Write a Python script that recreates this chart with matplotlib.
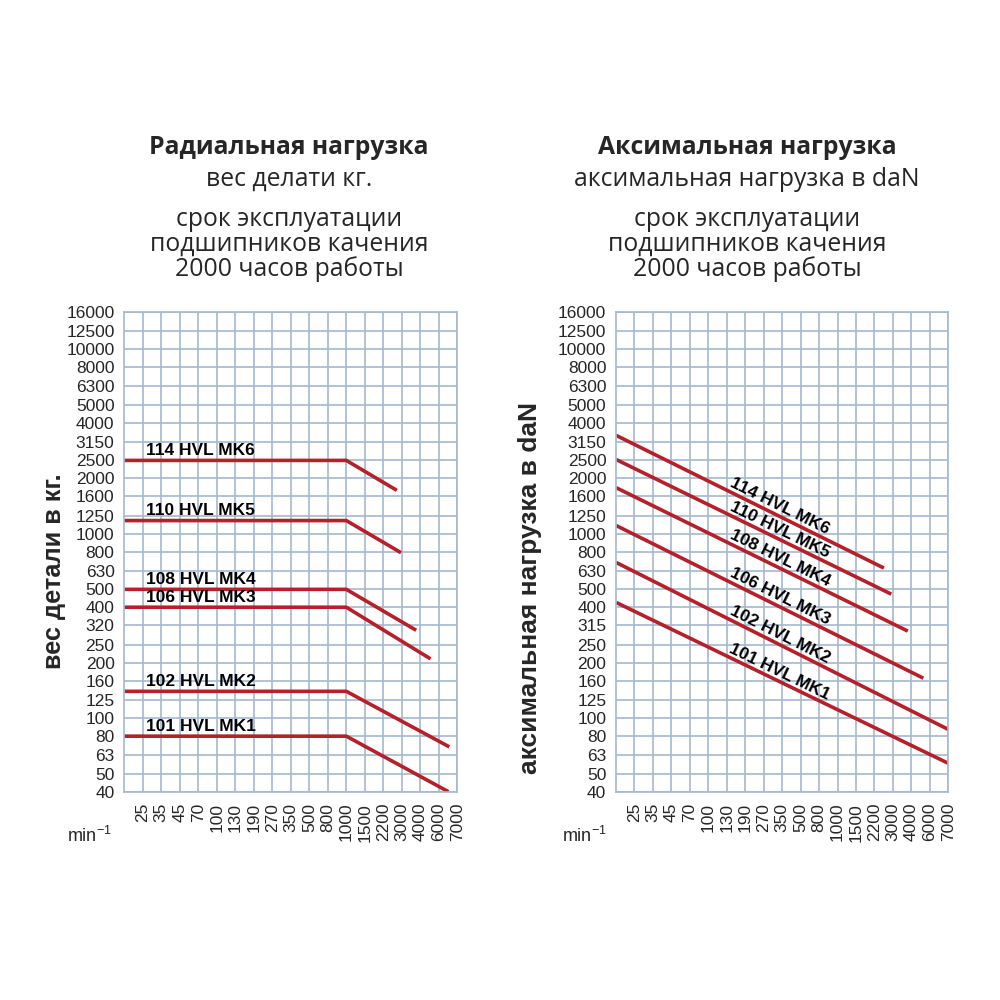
import numpy as np
import matplotlib
matplotlib.use('Agg')
import matplotlib.pyplot as plt

# rpm tick labels (grid columns 1..18, column 0 is the left edge)
rpm_ticks = [25, 35, 45, 70, 100, 130, 190, 270, 350, 500, 800, 1000,
             1500, 2200, 3000, 4000, 6000, 7000]
load_ticks = [40, 50, 63, 80, 100, 125, 160, 200, 250, 320, 400, 500, 630,
              800, 1000, 1250, 1600, 2000, 2500, 3150, 4000, 5000, 6300,
              8000, 10000, 12500, 16000]
load_labels_left = [str(v) for v in load_ticks]
load_labels_right = [('315' if v == 320 else str(v)) for v in load_ticks]

models = ['114 HVL MK6', '110 HVL MK5', '108 HVL MK4',
          '106 HVL MK3', '102 HVL MK2', '101 HVL MK1']

# radial load (kg): flat up to 1000 rpm, then falling
radial_load = [2500, 1180, 500, 400, 140, 80]
radial_knee_rpm = 1000
radial_end_rpm = [2760, 2960, 3750, 5000, 6550, 6500]
radial_end_load = [1720, 790, 300, 210, 70, 40]

# axial load (daN): straight falling lines from the left edge
axial_start = [3420, 2530, 1780, 1110, 700, 425]
axial_end_rpm = [2580, 2920, 3780, 5200, 7000, 7000]
axial_end = [652, 471, 297, 165, 87, 57]

RED = '#b5202a'
GRID = '#a6b9cf'
TXT = '#262626'
arial = ['Liberation Sans', 'DejaVu Sans']
sans = ['Open Sans', 'DejaVu Sans']
plt.rcParams['mathtext.default'] = 'regular'

tick_pos = np.arange(1, len(rpm_ticks) + 1)


def pos(rpm):
    return np.interp(np.log(rpm), np.log(rpm_ticks), tick_pos)


fig = plt.figure(figsize=(10, 10), dpi=100)
ax1 = fig.add_axes([0.1243, 0.2083, 0.333, 0.480])
ax2 = fig.add_axes([0.616, 0.2083, 0.3323, 0.480])

for ax, ylabels in [(ax1, load_labels_left), (ax2, load_labels_right)]:
    ax.set_yscale('log')
    ax.set_xlim(0, len(rpm_ticks))
    ax.set_ylim(load_ticks[0], load_ticks[-1])
    ax.yaxis.set_minor_locator(matplotlib.ticker.NullLocator())
    ax.set_yticks(load_ticks)
    ax.set_yticklabels(ylabels, family=arial, fontsize=12.5, color=TXT)
    ax.set_xticks(tick_pos)
    ax.set_xticklabels([str(v) for v in rpm_ticks], rotation=90,
                       family=arial, fontsize=12.5, color=TXT, va='top')
    ax.tick_params(length=0, which='both')
    ax.tick_params(axis='y', pad=7)
    ax.tick_params(axis='x', pad=8)
    ax.grid(True, which='major', color=GRID, lw=1.2)
    for s in ax.spines.values():
        s.set_color(GRID)
        s.set_linewidth(1.2)
    ax.set_axisbelow(True)

# left panel
x0 = ax1.get_xlim()[0]
for name, load, e_rpm, e_load in zip(models, radial_load, radial_end_rpm,
                                     radial_end_load):
    ax1.plot([x0, pos(radial_knee_rpm), pos(e_rpm)], [load, load, e_load],
             color=RED, lw=2.6, solid_capstyle='butt')
    ax1.annotate(name, (1.15, load), xytext=(0, 4), textcoords='offset points',
                 ha='left', va='baseline', fontsize=12.5, fontweight='bold',
                 family=arial, color='black')

# right panel
x0 = ax2.get_xlim()[0]
lab_x = pos(320)
for name, s, e_rpm, e in zip(models, axial_start, axial_end_rpm, axial_end):
    xe = pos(e_rpm)
    ax2.plot([x0, xe], [s, e], color=RED, lw=2.6, solid_capstyle='butt')
    p1 = ax2.transData.transform((x0, s))
    p2 = ax2.transData.transform((xe, e))
    ang = np.degrees(np.arctan2(p2[1] - p1[1], p2[0] - p1[0]))
    ly = np.exp(np.log(s) + (np.log(e) - np.log(s)) * (lab_x - x0) / (xe - x0))
    a = np.radians(ang)
    d = 6.5
    ax2.annotate(name, (lab_x, ly), xytext=(-np.sin(a) * d, np.cos(a) * d),
                 textcoords='offset points', ha='center', va='center',
                 rotation=ang, rotation_mode='anchor', fontsize=12.5,
                 fontweight='bold', family=arial, color='black')

# headings
for cx, head, sub in [(0.289, 'Радиальная нагрузка', 'вес делати кг.'),
                      (0.747, 'Аксимальная нагрузка',
                       'аксимальная нагрузка в daN')]:
    fig.text(cx, 1 - 0.148, head, ha='center', va='center', fontsize=17.8,
             fontweight='bold', family=sans, color=TXT)
    fig.text(cx, 1 - 0.179, sub, ha='center', va='center', fontsize=17.8,
             family=sans, color=TXT)
    for i, line in enumerate(['срок эксплуатации', 'подшипников качения',
                              '2000 часов работы']):
        fig.text(cx, 1 - 0.219 - i * 0.025, line, ha='center', va='center',
                 fontsize=17.8, family=sans, color=TXT)

fig.text(0.054, 1 - 0.571, 'вес детали в кг.', rotation=90, ha='center',
         va='center', fontsize=18.3, fontweight='bold', family=arial,
         color=TXT)
fig.text(0.530, 1 - 0.588, 'аксимальная нагрузка в daN', rotation=90,
         ha='center', va='center', fontsize=19, fontweight='bold',
         family=arial, color=TXT)

fig.text(0.067, 1 - 0.842, 'min$^{-1}$', ha='left', va='baseline',
         fontsize=13, family=arial, color=TXT)
fig.text(0.562, 1 - 0.842, 'min$^{-1}$', ha='left', va='baseline',
         fontsize=13, family=arial, color=TXT)

fig.savefig('out.png', dpi=100, facecolor='white')
